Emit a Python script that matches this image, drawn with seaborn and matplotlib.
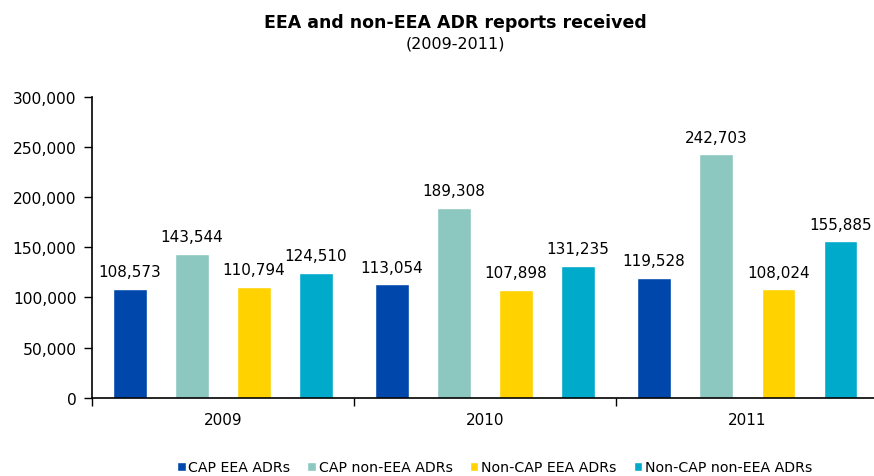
import pandas as pd
import matplotlib
matplotlib.use("Agg")
import matplotlib.pyplot as plt
import seaborn as sns
from matplotlib.ticker import FuncFormatter

# ================================
# Data
# ================================
years = ["2009", "2010", "2011"]
series = ["CAP EEA ADRs", "CAP non-EEA ADRs", "Non-CAP EEA ADRs", "Non-CAP non-EEA ADRs"]
cap_eea = [108573, 113054, 119528]
cap_non_eea = [143544, 189308, 242703]
noncap_eea = [110794, 107898, 108024]
noncap_non_eea = [124510, 131235, 155885]
colors = ["#0047AB", "#8DC8C0", "#FFD200", "#00AACB"]

rows = []
for name, vals in zip(series, [cap_eea, cap_non_eea, noncap_eea, noncap_non_eea]):
    for y, v in zip(years, vals):
        rows.append({"Year": y, "Series": name, "Reports": v})
df = pd.DataFrame(rows)

# ================================
# Plot
# ================================
sns.set_style("white")
plt.rcParams["font.family"] = ["DejaVu Sans"]

fig = plt.figure(figsize=(8.74, 4.77), dpi=100)
ax = fig.add_axes([0.105, 0.164, 0.90, 0.631])

sns.barplot(data=df, x="Year", y="Reports", hue="Series", order=years,
            hue_order=series, palette=colors, width=0.947, gap=0.46,
            saturation=1, ax=ax, legend=True)

for cont in ax.containers:
    ax.bar_label(cont, labels=[f"{int(v):,}" for v in cont.datavalues],
                 padding=7, fontsize=11, color="black")

ax.set_ylim(0, 300000)
ax.set_yticks(range(0, 300001, 50000))
ax.yaxis.set_major_formatter(FuncFormatter(lambda v, p: f"{int(v):,}"))
ax.set_xlim(-0.5, 2.5)
ax.set_xticks([-0.5, 0.5, 1.5, 2.5], minor=False)
ax.set_xticklabels([])
ax.set_xticks([0, 1, 2], minor=True)
ax.set_xticklabels(years, minor=True)
ax.tick_params(axis="x", which="minor", bottom=False, length=0, pad=10,
               labelsize=11, labelcolor="black")
ax.tick_params(axis="x", which="major", bottom=True, length=6, width=1,
               direction="out", color="black")
ax.tick_params(axis="y", left=True, length=6, width=1, direction="out",
               labelsize=11.2, color="black", labelcolor="black", pad=5)
ax.set_xlabel("")
ax.set_ylabel("")

for s in ["top", "right"]:
    ax.spines[s].set_visible(False)
for s in ["left", "bottom"]:
    ax.spines[s].set_color("black")
    ax.spines[s].set_linewidth(1.2)

handles, labels = ax.get_legend_handles_labels()
ax.get_legend().remove()
fig.legend(handles, labels, loc="center", bbox_to_anchor=(0.566, 0.018),
           ncol=4, frameon=False, fontsize=10.2, handlelength=0.6, handleheight=0.6,
           handletextpad=0.2, columnspacing=1.2, labelcolor="black")

fig.text(0.521, 0.952, "EEA and non-EEA ADR reports received", ha="center",
         va="center", fontsize=12.5, fontweight="bold", color="black")
fig.text(0.521, 0.908, "(2009-2011)", ha="center", va="center", fontsize=11.5,
         color="black")

plt.savefig("out.png", dpi=100)
